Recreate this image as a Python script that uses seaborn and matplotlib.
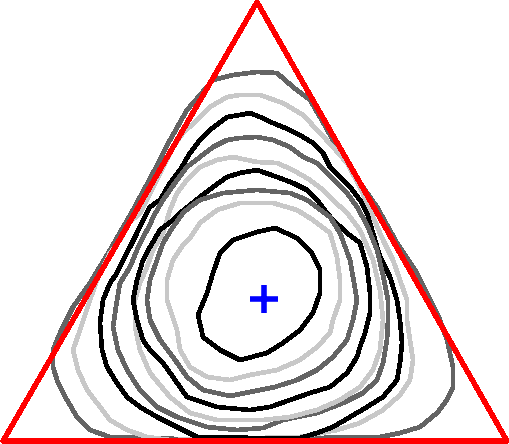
import matplotlib
matplotlib.use("Agg")
import matplotlib.pyplot as plt
import seaborn as sns
import pandas as pd

sns.set_style("white")

# Simplex outline (chart pixel coordinates, y downward)
triangle_x = [3, 507, 257, 3]
triangle_y = [441, 441, 2, 441]

# Mean point
mean_x = [264]
mean_y = [299]

# Contour lines, innermost (highest level) to outermost
c1 = [(257,232),(275,228),(297,238),(312,253),(320,270),(320,293),(313,313),(300,330),(283,343),(267,353),
      (240,360),(220,350),(203,337),(198,315),(207,293),(213,273),(220,253),(233,240),(257,232)]
c2 = [(257,203),(273,203),(297,210),(313,220),(330,233),(337,257),(340,280),(340,300),(333,320),(330,333),
      (317,347),(300,360),(277,370),(250,375),(230,380),(207,377),(190,367),(180,350),(177,330),(167,300),
      (167,280),(173,260),(183,245),(190,238),(200,223),(217,210),(240,203),(257,203)]
c3 = [(257,190),(290,193),(307,200),(330,217),(340,233),(350,260),(353,277),(357,300),(353,320),(347,340),
      (333,357),(317,370),(297,380),(275,387),(250,392),(230,396),(203,390),(187,377),(173,357),(160,340),
      (150,320),(147,300),(150,280),(157,260),(163,243),(173,227),(183,213),(190,207),(200,200),(223,193),(257,190)]
c4 = [(257,170),(277,177),(293,183),(307,190),(317,200),(327,213),(333,220),(347,233),(360,243),(367,267),
      (370,293),(370,313),(365,333),(360,347),(357,357),(347,373),(330,387),(310,393),(290,400),(270,407),
      (250,410),(217,407),(187,397),(173,377),(163,363),(150,350),(143,340),(137,320),(133,300),(137,280),
      (143,260),(150,247),(160,230),(173,220),(180,213),(190,205),(200,197),(213,187),(227,177),(240,173),(257,170)]
c5 = [(257,162),(277,163),(293,170),(310,180),(323,190),(333,200),(347,213),(360,230),(373,260),(380,290),
      (383,320),(380,350),(373,370),(360,387),(340,400),(317,410),(290,417),(263,420),(217,420),(190,413),
      (170,397),(150,373),(140,350),(135,327),(135,300),(140,283),(147,267),(153,250),(163,233),(170,210),
      (177,193),(187,180),(200,167),(217,160),(233,157),(257,162)]
c6 = [(257,137),(273,140),(290,147),(303,157),(317,163),(327,173),(337,183),(347,193),(357,207),(367,225),
      (377,250),(383,275),(388,300),(388,320),(387,340),(383,363),(377,380),(363,393),(343,403),(317,413),
      (283,420),(263,428),(237,430),(207,427),(177,417),(157,407),(140,390),(127,370),(118,350),(113,327),
      (117,300),(120,283),(130,267),(137,250),(143,237),(150,225),(153,217),(163,200),(177,180),(187,167),
      (200,157),(213,147),(227,140),(240,138),(257,137)]
c7 = [(250,113),(260,117),(273,123),(290,130),(303,137),(313,143),(323,153),(330,167),(340,177),(350,187),
      (360,200),(367,213),(373,233),(380,257),(390,277),(397,300),(400,320),(402,343),(400,363),(397,380),
      (383,397),(367,407),(350,417),(333,427),(317,433),(300,438),(260,438),(197,437),(177,427),(157,417),
      (140,407),(127,397),(117,383),(107,367),(102,350),(100,323),(103,300),(110,283),(117,273),(123,260),
      (130,247),(137,233),(143,220),(150,207),(160,200),(170,183),(180,170),(190,153),(200,140),(210,130),
      (227,117),(240,115),(250,113)]
c8 = [(240,95),(260,95),(283,103),(303,115),(320,133),(333,147),(347,163),(360,187),(370,210),(383,240),
      (393,260),(400,280),(407,300),(407,320),(410,340),(413,360),(410,380),(400,395),(383,410),(360,423),
      (337,430),(300,437),(170,440),(147,437),(127,430),(110,420),(97,403),(87,390),(78,370),(73,350),
      (80,330),(90,300),(97,280),(110,253),(120,240),(130,222),(140,213),(150,193),(160,173),(167,160),
      (173,147),(183,133),(197,120),(210,107),(227,97),(240,95)]
c9 = [(257,72),(277,73),(293,87),(310,100),(320,117),(333,140),(353,173),(377,207),(397,243),(417,273),
      (430,300),(440,320),(447,340),(453,367),(453,387),(447,400),(437,413),(420,427),(400,433),(380,437),
      (333,437),(300,440),(200,440),(133,437),(110,437),(90,430),(77,417),(67,400),(58,383),(53,367),
      (53,350),(60,333),(73,307),(90,283),(110,250),(133,210),(153,173),(170,140),(187,110),(213,80),
      (233,75),(257,72)]

contours = [c1, c2, c3, c4, c5, c6, c7, c8, c9]
contour_colors = ["#000000", "#c8c8c8", "#646464"] * 3

rows = []
for i, pts in enumerate(contours):
    for j, (x, y) in enumerate(pts):
        rows.append({"level": f"L{i}", "order": j, "x": x, "y": y})
df = pd.DataFrame(rows)

fig = plt.figure(figsize=(5.10, 4.44), dpi=100)
ax = fig.add_axes([0, 0, 1, 1])

# draw outer first so inner ones overlay
for i in reversed(range(len(contours))):
    sub = df[df["level"] == f"L{i}"]
    sns.lineplot(data=sub, x="x", y="y", sort=False, estimator=None,
                 color=contour_colors[i], lw=2.6, ax=ax, legend=False,
                 antialiased=False)

tri = pd.DataFrame({"x": triangle_x, "y": triangle_y})
sns.lineplot(data=tri, x="x", y="y", sort=False, estimator=None,
             color="#ff0000", lw=3.0, ax=ax, legend=False, antialiased=False)

sns.scatterplot(x=mean_x, y=mean_y, marker="+", s=420, color="#0000ff",
                linewidth=4.0, ax=ax, legend=False)

ax.set_xlim(0, 510)
ax.set_ylim(444, 0)
ax.axis("off")
fig.savefig("out.png", dpi=100)
